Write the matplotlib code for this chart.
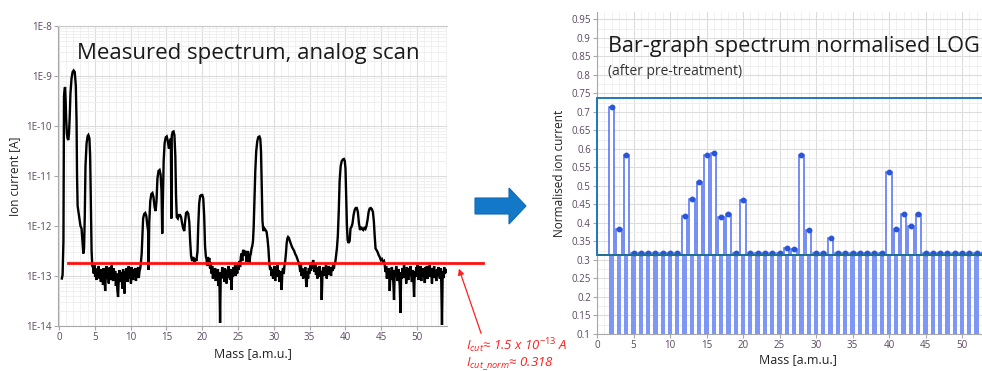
import numpy as np
import matplotlib
matplotlib.use("Agg")
import matplotlib.pyplot as plt
from matplotlib.ticker import MultipleLocator, FixedLocator, LogLocator, NullFormatter, FuncFormatter
from matplotlib.patches import Polygon

plt.rcParams['font.family'] = ['Open Sans', 'DejaVu Sans']
plt.rcParams['mathtext.fontset'] = 'custom'
plt.rcParams['mathtext.rm'] = 'Open Sans'
plt.rcParams['mathtext.it'] = 'Open Sans:italic'

# ---- analog scan (mass [amu], log10 ion current [A]) ----
scan_peaks_1_4 = [
    (0.40, -13.05), (0.50, -12.98), (0.56, -12.60), (0.62, -12.30), (0.66, -11.00),
    (0.70, -9.40), (0.78, -9.26), (0.85, -9.22), (0.92, -9.45), (1.00, -9.85),
    (1.10, -10.15), (1.20, -10.25), (1.30, -10.28), (1.40, -10.15), (1.50, -9.80),
    (1.60, -9.35), (1.75, -9.05), (1.90, -8.92), (2.05, -8.89), (2.20, -8.92),
    (2.35, -9.20), (2.45, -9.90), (2.52, -11.00), (2.60, -11.60), (2.70, -11.70),
    (2.85, -11.85), (3.00, -12.00), (3.15, -12.05), (3.30, -12.35), (3.40, -12.55),
    (3.50, -12.45), (3.60, -11.80), (3.70, -10.80), (3.85, -10.35), (4.00, -10.20),
    (4.10, -10.18), (4.25, -10.25), (4.35, -10.60), (4.45, -11.60), (4.55, -12.50),
    (4.65, -12.80),
]
noise_5_11 = (4.75, [
    -12.82, -12.95, -12.78, -13.02, -12.88, -13.08, -12.85, -12.98, -12.80, -13.05,
    -12.90, -13.12, -12.86, -12.97, -13.18, -12.84, -13.00, -13.30, -12.92, -12.80,
    -13.06, -12.88, -13.15, -12.83, -12.96, -13.08, -12.79, -12.94, -13.10, -12.85,
    -13.02, -12.90, -13.20, -12.95, -13.28, -13.42, -13.05, -12.88, -13.12, -12.92,
    -13.00, -13.25, -12.86, -13.10, -13.35, -12.90, -13.02, -12.84, -13.12, -12.93,
    -12.80, -13.05, -12.90, -13.15, -12.82, -12.98, -13.08, -12.86, -13.00, -12.84,
    -13.10, -12.88, -12.96, -12.82, -13.04, -12.90, -12.85, -12.72,
])
scan_peaks_12_20 = [
    (11.55, -12.55), (11.65, -12.20), (11.75, -11.85), (11.90, -11.76), (12.05, -11.74),
    (12.20, -11.80), (12.35, -12.00), (12.45, -12.10), (12.52, -12.88), (12.60, -11.95),
    (12.75, -11.50), (12.90, -11.36), (13.05, -11.34), (13.20, -11.42), (13.35, -11.62),
    (13.50, -11.70), (13.62, -11.50), (13.75, -11.05), (13.90, -10.90), (14.05, -10.88),
    (14.20, -10.98), (14.32, -11.30), (14.42, -12.15), (14.50, -11.60), (14.62, -10.70),
    (14.75, -10.35), (14.90, -10.23), (15.05, -10.21), (15.20, -10.30), (15.35, -10.45),
    (15.48, -10.40), (15.62, -10.25), (15.70, -11.85), (15.75, -10.20), (15.88, -10.12),
    (16.00, -10.11), (16.12, -10.18), (16.25, -10.60), (16.35, -11.40), (16.45, -11.82),
    (16.60, -11.85), (16.75, -11.78), (16.90, -11.78), (17.05, -11.82), (17.20, -11.95),
    (17.35, -12.05), (17.50, -12.10), (17.62, -11.90), (17.75, -11.74), (17.90, -11.72),
    (18.05, -11.75), (18.20, -11.92), (18.32, -12.30), (18.45, -12.60), (18.60, -12.70),
    (18.75, -12.62), (18.90, -12.72), (19.05, -12.66), (19.20, -12.70), (19.35, -12.50),
    (19.45, -12.00), (19.58, -11.55), (19.72, -11.40), (19.88, -11.38), (20.02, -11.38),
    (20.15, -11.45), (20.28, -11.80), (20.40, -12.40), (20.52, -12.62),
]
noise_21_27 = (20.6, [
    -12.65, -12.80, -12.62, -12.70, -12.64, -12.85, -12.72, -12.95, -12.80, -13.05,
    -12.88, -12.98, -12.84, -13.10, -12.90, -13.05, -12.86, -13.20, -12.95, -13.94,
    -12.92, -13.05, -12.82, -13.00, -12.88, -13.12, -12.85, -12.98, -13.15, -12.88,
    -13.04, -12.80, -12.95, -13.08, -12.86, -13.28, -12.90, -13.02, -12.82, -12.96,
    -12.78, -13.00, -12.84, -12.95, -12.75, -12.88, -12.70, -12.82, -12.62, -12.55,
    -12.70, -12.50, -12.48, -12.60, -12.50, -12.52, -12.72, -12.58, -12.50, -12.62,
    -12.75, -12.60, -12.55, -12.45, -12.40,
])
scan_peak_28 = [
    (27.10, -12.30), (27.20, -12.00), (27.30, -11.50), (27.42, -10.90), (27.55, -10.50),
    (27.70, -10.30), (27.85, -10.22), (28.00, -10.21), (28.12, -10.26), (28.22, -10.50),
    (28.32, -11.20), (28.42, -11.90), (28.55, -12.10), (28.70, -12.05), (28.85, -12.08),
    (29.00, -12.12), (29.12, -12.25), (29.25, -12.45), (29.38, -12.75), (29.50, -12.88),
]
noise_30_31 = (29.6, [
    -12.82, -13.00, -12.86, -13.05, -12.90, -12.80, -13.10, -12.85, -12.95, -12.78,
    -13.02, -12.88, -13.12, -12.90, -13.05, -13.28, -12.92, -12.84, -12.96, -12.78,
    -12.70,
])
scan_peak_32 = [
    (31.70, -12.55), (31.80, -12.35), (31.90, -12.25), (32.00, -12.22), (32.12, -12.24),
    (32.25, -12.30), (32.40, -12.36), (32.55, -12.42), (32.70, -12.46), (32.85, -12.50),
    (33.00, -12.56), (33.15, -12.60), (33.30, -12.66), (33.45, -12.72),
]
noise_34_38 = (33.6, [
    -12.80, -12.92, -12.76, -13.00, -12.85, -13.05, -12.88, -12.98, -12.82, -13.10,
    -13.22, -12.90, -13.05, -12.84, -12.95, -12.78, -12.90, -12.72, -12.85, -12.68,
    -12.80, -12.92, -12.75, -12.98, -12.82, -13.05, -12.86, -12.96, -12.80, -13.02,
    -12.90, -13.48, -12.95, -12.82, -13.00, -12.84, -12.95, -12.78, -13.05, -12.86,
    -12.98, -12.80, -12.94, -12.84, -13.00, -12.82, -12.90, -12.76, -12.86, -12.74,
    -12.72,
])
scan_peaks_40_44 = [
    (38.70, -12.60), (38.82, -12.45), (38.95, -12.20), (39.08, -11.70), (39.20, -11.10),
    (39.35, -10.80), (39.50, -10.70), (39.65, -10.67), (39.80, -10.66), (39.92, -10.70),
    (40.02, -10.85), (40.12, -11.40), (40.22, -12.00), (40.32, -12.28), (40.45, -12.34),
    (40.60, -12.30), (40.72, -12.05), (40.85, -12.02), (41.00, -11.95), (41.15, -11.78),
    (41.30, -11.68), (41.45, -11.64), (41.60, -11.64), (41.75, -11.72), (41.90, -11.95),
    (42.05, -12.08), (42.20, -12.02), (42.35, -12.06), (42.50, -12.08), (42.65, -12.04),
    (42.80, -12.06), (42.95, -12.00), (43.10, -11.88), (43.25, -11.72), (43.40, -11.65),
    (43.55, -11.64), (43.70, -11.66), (43.85, -11.72), (43.98, -11.90), (44.10, -12.20),
    (44.22, -12.45), (44.35, -12.48), (44.50, -12.52), (44.65, -12.58), (44.80, -12.62),
    (44.95, -12.68), (45.10, -12.66), (45.25, -12.72), (45.40, -12.70),
]
noise_46_54 = (45.5, [
    -12.78, -12.92, -12.80, -13.05, -12.86, -12.98, -12.84, -13.30, -12.90, -13.08,
    -12.82, -12.96, -13.12, -13.48, -12.88, -13.02, -12.80, -12.94, -13.10, -12.86,
    -13.00, -13.20, -13.74, -12.92, -13.06, -12.84, -12.98, -12.78, -13.04, -12.88,
    -13.15, -12.82, -12.95, -13.08, -12.85, -13.00, -12.80, -12.96, -13.12, -12.88,
    -13.05, -13.42, -12.90, -13.02, -12.82, -12.95, -12.78, -13.08, -12.86, -12.98,
    -12.80, -13.10, -12.88, -13.00, -12.84, -12.96, -13.14, -12.82, -12.94, -12.80,
    -13.06, -12.86, -12.98, -12.78, -13.02, -12.88, -13.15, -12.84, -12.96, -12.80,
    -13.04, -12.90, -13.10, -12.86, -13.00, -12.82, -12.95, -13.05, -12.84, -13.12,
    -13.98, -12.90, -13.04, -12.82, -12.96, -12.86, -12.92,
])

cut_current = 1.8e-13     # red cut-off line drawn on the scan

# ---- bar-graph spectrum ----
bar_mass = list(range(2, 55))
bar_norm = [0.714, 0.385, 0.583] + [0.318] * 7 + \
    [0.420, 0.466, 0.510, 0.583, 0.589, 0.417, 0.425, 0.318, 0.463] + [0.318] * 5 + \
    [0.333, 0.330, 0.583, 0.382, 0.318, 0.318, 0.360] + [0.318] * 7 + \
    [0.537, 0.385, 0.423, 0.393, 0.423] + [0.318] * 10
box_top = 0.738
cut_norm = 0.314
mass_ticks = [0, 5, 10, 15, 20, 25, 30, 35, 40, 45, 50]


def sampled(seg, step=0.1):
    start, vals = seg
    return [(start + step * i, v) for i, v in enumerate(vals)]


scan = (scan_peaks_1_4 + sampled(noise_5_11) + scan_peaks_12_20 + sampled(noise_21_27)
        + scan_peak_28 + sampled(noise_30_31) + scan_peak_32 + sampled(noise_34_38)
        + scan_peaks_40_44 + sampled(noise_46_54))
scan_mass = np.array([p[0] for p in scan])
scan_current = 10.0 ** np.array([p[1] for p in scan])

W, H = 982, 371
tick_col = "#5a4660"
spine_col = "#a8a8a8"


def rect(l, t, r, b):
    return [l / W, 1 - b / H, (r - l) / W, (b - t) / H]


def fxy(x, y):
    return (x / W, 1 - y / H)


fig = plt.figure(figsize=(W / 100, H / 100), dpi=100)

# ---------------- left: analog scan ----------------
ax1 = fig.add_axes(rect(58, 26, 447, 326))
ax1.set_yscale('log')
ax1.set_ylim(1e-14, 1e-8)
ax1.set_xlim(-0.14, 54.2)
ax1.xaxis.set_major_locator(FixedLocator(mass_ticks))
ax1.xaxis.set_minor_locator(MultipleLocator(1))
ax1.yaxis.set_major_locator(LogLocator(base=10, numticks=10))
ax1.yaxis.set_minor_locator(LogLocator(base=10, subs=np.arange(2, 10), numticks=10))
ax1.yaxis.set_minor_formatter(NullFormatter())
ax1.yaxis.set_major_formatter(FuncFormatter(lambda v, p: "1E%d" % int(round(np.log10(v)))))
ax1.grid(which='major', color='#dcdcdc', lw=0.8)
ax1.grid(which='minor', color='#eeeeee', lw=0.6)
ax1.set_axisbelow(True)
ax1.tick_params(which='major', length=3, color=spine_col, labelsize=7, labelcolor=tick_col, pad=1.5)
ax1.tick_params(which='minor', length=0)
for s in ['left', 'bottom']:
    ax1.spines[s].set_color(spine_col)
ax1.spines['top'].set_color('#c8c8c8')
ax1.spines['right'].set_visible(False)

ax1.plot(scan_mass, scan_current, color='black', lw=1.7, solid_joinstyle='miter')
ax1.plot([1.2, 59.2], [cut_current, cut_current], color='#ff1010', lw=2.0, clip_on=False, zorder=5)

ax1.set_ylabel("Ion current [A]", fontsize=8.5, color='#222222', labelpad=4)
ax1.set_xlabel("Mass [a.m.u.]", fontsize=9, color='#222222', labelpad=3)
ax1.text(0.05, 0.91, "Measured spectrum, analog scan", transform=ax1.transAxes,
         fontsize=16, color='#1a1a1a', va='center', ha='left')

# ---------------- right: bar graph ----------------
ax2 = fig.add_axes(rect(597, 12, 597 + 55 * 7.3, 334))
ax2.set_xlim(0, 55)
ax2.set_ylim(0.1, 0.97)
ax2.xaxis.set_major_locator(FixedLocator(mass_ticks))
ax2.xaxis.set_minor_locator(MultipleLocator(1))
ax2.yaxis.set_major_locator(MultipleLocator(0.05))
ax2.yaxis.set_minor_locator(MultipleLocator(0.025))
ax2.yaxis.set_major_formatter(FuncFormatter(lambda v, p: "%g" % round(v, 2) if v < 0.96 else ""))
ax2.grid(which='major', color='#dcdcdc', lw=0.8)
ax2.grid(which='minor', color='#eeeeee', lw=0.6)
ax2.set_axisbelow(True)
ax2.tick_params(which='major', length=3, color=spine_col, labelsize=7, labelcolor=tick_col, pad=1.5)
ax2.tick_params(which='minor', length=0)
ax2.spines['left'].set_color(spine_col)
ax2.spines['bottom'].set_color(spine_col)
ax2.spines['top'].set_visible(False)
ax2.spines['right'].set_visible(False)

bar_norm = np.array(bar_norm)
# hollow part above the cut level, filled stripe below it
ax2.bar(bar_mass, bar_norm - cut_norm, bottom=cut_norm, width=0.72, facecolor='white',
        edgecolor='#4f6ff0', lw=1.1, zorder=2)
ax2.bar(bar_mass, np.minimum(bar_norm, cut_norm) - 0.1, bottom=0.1, width=0.6,
        color='#7e97f4', lw=0, zorder=3)
ax2.plot(bar_mass, bar_norm, 'o', ms=3.2, color='#2a55d8', zorder=4)

ax2.axhline(box_top, xmin=0, xmax=1, color='#2277b5', lw=1.4, zorder=5)
ax2.axhline(cut_norm, xmin=0, xmax=1, color='#1d6f90', lw=1.4, zorder=5)
ax2.plot([0, 0], [cut_norm, box_top], color='#2277b5', lw=1.4, zorder=5, clip_on=False)

ax2.set_ylabel("Normalised ion current", fontsize=8.5, color='#222222', labelpad=4)
ax2.set_xlabel("Mass [a.m.u.]", fontsize=9, color='#222222', labelpad=1)
ax2.text(1.5, 0.878, "Bar-graph spectrum normalised LOG", fontsize=15.6, color='#1a1a1a',
         va='center', ha='left', clip_on=False)
ax2.text(1.5, 0.81, "(after pre-treatment)", fontsize=10, color='#333333', va='center', ha='left')

# ---------------- middle arrow + annotation ----------------
arrow_px = [(475, 198), (509, 198), (509, 188), (526, 206), (509, 224), (509, 214), (475, 214)]
fig.patches.append(Polygon([fxy(x, y) for x, y in arrow_px], closed=True,
                           transform=fig.transFigure, facecolor='#1478c8', edgecolor='#0f6ab5', lw=0.8))

fig.add_artist(matplotlib.patches.FancyArrowPatch(fxy(482, 336), fxy(458, 266),
                                                  transform=fig.transFigure, arrowstyle='-|>',
                                                  mutation_scale=9, color='#ff2020', lw=0.9))
fig.text(*fxy(466, 346), r"$I_{cut}$≈ 1.5 x 10$^{-13}$ A", color='#ff2020', fontsize=9.5,
         style='italic', va='center', ha='left')
fig.text(*fxy(466, 364), r"$I_{cut\_norm}$≈ 0.318", color='#ff2020', fontsize=9.5,
         style='italic', va='center', ha='left')

fig.savefig("out.png", dpi=100)
